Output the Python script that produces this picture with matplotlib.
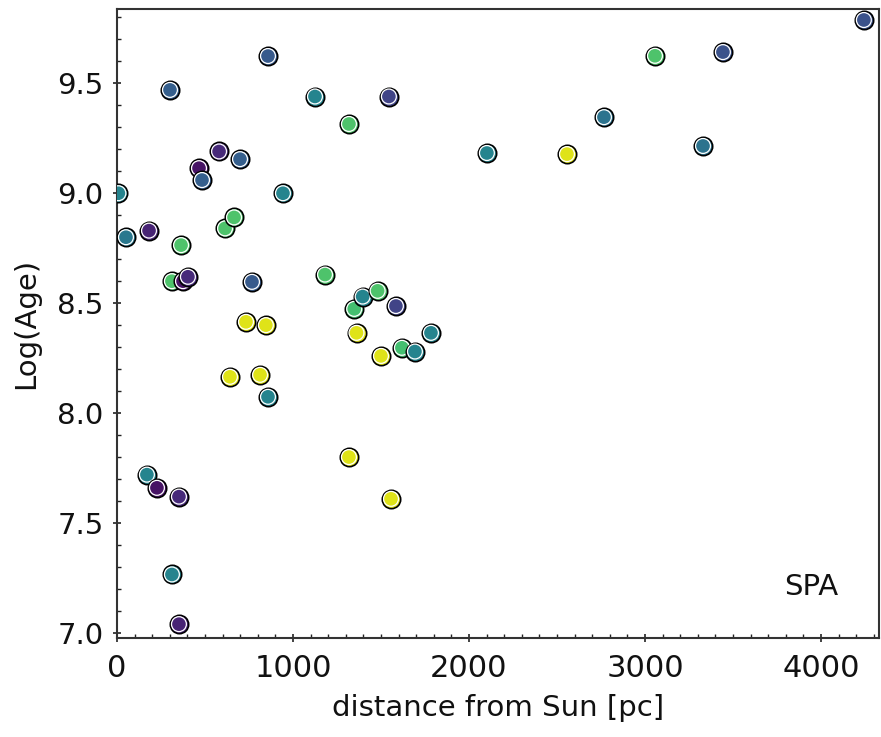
import matplotlib
matplotlib.use("Agg")
import matplotlib.pyplot as plt
from matplotlib.ticker import MultipleLocator, FormatStrFormatter

distance_pc = [8, 51, 182, 301, 858, 364, 312, 375, 403, 466, 483, 580, 699,
               614, 665, 943, 767, 1125, 1318, 1545, 1182, 733, 846, 1348, 1396,
               1481, 1585, 1361, 1784, 1500, 1619, 1693, 642, 813, 858, 1318,
               1557, 170, 227, 352, 312, 352, 4244, 3057, 3443, 2767, 2102,
               2557, 3330]
log_age = [9.00, 8.80, 8.83, 9.47, 9.624, 8.764, 8.60, 8.60, 8.62, 9.114, 9.06,
           9.19, 9.155, 8.84, 8.89, 9.00, 8.597, 9.44, 9.315, 9.44, 8.63, 8.415,
           8.40, 8.474, 8.53, 8.556, 8.487, 8.365, 8.365, 8.26, 8.297, 8.28,
           8.165, 8.174, 8.074, 7.80, 7.61, 7.72, 7.66, 7.62, 7.266, 7.04,
           9.788, 9.625, 9.642, 9.346, 9.183, 9.178, 9.215]
color_value = [0.45, 0.40, 0.10, 0.30, 0.28, 0.72, 0.72, 0.05, 0.12, 0.05, 0.30,
               0.12, 0.30, 0.72, 0.72, 0.45, 0.28, 0.45, 0.72, 0.20, 0.72, 0.95,
               0.95, 0.70, 0.45, 0.72, 0.20, 0.95, 0.45, 0.95, 0.70, 0.45, 0.95,
               0.95, 0.45, 0.95, 0.95, 0.45, 0.05, 0.12, 0.45, 0.10, 0.25, 0.72,
               0.25, 0.38, 0.45, 0.95, 0.38]

fig = plt.figure(figsize=(8.81, 7.37), dpi=100)
ax = fig.add_axes([117/881, 1-638/737, (879-117)/881, (638-9)/737])

cmap = plt.get_cmap("viridis")
for x, y, c in zip(distance_pc, log_age, color_value):
    ax.scatter([x], [y], s=175, c=[cmap(c)], edgecolors="black",
               linewidths=1.2, zorder=3)
    ax.scatter([x], [y], s=115, facecolors="none", edgecolors="white",
               linewidths=0.9, zorder=3)

ax.set_xlim(0, 4330)
ax.set_ylim(6.977, 9.838)

ax.xaxis.set_major_locator(MultipleLocator(1000))
ax.xaxis.set_minor_locator(MultipleLocator(100))
ax.yaxis.set_major_locator(MultipleLocator(0.5))
ax.yaxis.set_minor_locator(MultipleLocator(0.1))
ax.yaxis.set_major_formatter(FormatStrFormatter("%.1f"))

ax.tick_params(which="major", direction="inout", length=5.5, width=1.2,
               color="#222222")
ax.tick_params(which="minor", direction="in", length=3, width=1.0,
               color="#222222")
ax.tick_params(axis="x", which="major", labelsize=22, pad=9)
ax.tick_params(axis="y", which="major", labelsize=21, pad=7)
for lab in ax.get_xticklabels() + ax.get_yticklabels():
    lab.set_family("DejaVu Sans")
    lab.set_color("#111111")

for sp in ax.spines.values():
    sp.set_linewidth(1.5)
    sp.set_color("#333333")

ax.set_xlabel("distance from Sun [pc]", fontsize=21, family="DejaVu Sans",
              labelpad=8, color="#111111")
ax.set_ylabel("Log(Age)", fontsize=21, family="DejaVu Sans", labelpad=12,
              color="#111111")

ax.text(0.911, 0.0805, "SPA", transform=ax.transAxes, fontsize=21,
        family="DejaVu Sans", ha="center", va="center", color="#111111")

fig.savefig("out.png", dpi=100)
